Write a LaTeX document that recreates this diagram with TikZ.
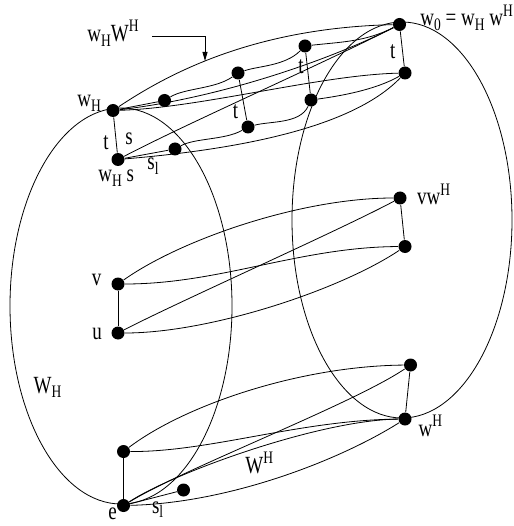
\documentclass[tikz,border=0pt]{standalone}
\usepackage{fontspec}
\setmainfont{Liberation Serif}
\usepackage{graphicx}
\usetikzlibrary{arrows.meta}
\newcommand{\sbs}[1]{\raisebox{-3.6pt}{\fontsize{13.5}{14}\selectfont #1}}
\newcommand{\sps}[1]{\raisebox{7.5pt}{\fontsize{13.5}{14}\selectfont #1}}
\newcommand{\stx}[1]{\scalebox{1}[1.3]{\fontsize{19}{22}\selectfont #1}}
\begin{document}
\begin{tikzpicture}[x=1pt,y=-1pt,line width=0.8pt,
  dot/.style={circle,fill=black,inner sep=0pt,minimum size=13pt},
  lbl/.style={inner sep=0pt,anchor=base west},
  lblc/.style={inner sep=0pt,anchor=base}]
\useasboundingbox (0,0) rectangle (513,526);
% cosets as ellipses
\draw (121,306) ellipse [x radius=111pt, y radius=198pt];
\draw (402,220) ellipse [x radius=110pt, y radius=198pt];
% nodes
\node[dot] (wH)  at (113,110.5) {};
\node[dot] (wHs) at (118,159.5) {};
\node[dot] (A1)  at (164.5,100.5) {};
\node[dot] (A2)  at (175,149) {};
\node[dot] (B1)  at (238,73) {};
\node[dot] (B2)  at (248,127) {};
\node[dot] (C1)  at (305,46) {};
\node[dot] (C2)  at (311,100) {};
\node[dot] (w0)  at (399.5,24.5) {};
\node[dot] (D2)  at (405,73) {};
\node[dot] (v)   at (118,284) {};
\node[dot] (u)   at (118,333) {};
\node[dot] (vwH) at (400,198) {};
\node[dot] (uwH) at (405,246.5) {};
\node[dot] (e2)  at (123.5,451.5) {};
\node[dot] (e)   at (123.5,505.5) {};
\node[dot] (sd)  at (183.5,490) {};
\node[dot] (R1)  at (410.5,365) {};
\node[dot] (wHp) at (405,419) {};
% vertical edges
\draw (wH) -- (wHs);
\draw (B1) -- (B2);
\draw (C1) -- (C2);
\draw (w0) -- (D2);
\draw (v) -- (u);
\draw (vwH) -- (uwH);
\draw (e2) -- (e);
\draw (R1) -- (wHp);
% top chains
\draw (wH) -- (A1);
\draw (A1) .. controls (185,88) and (215,89) .. (B1);
\draw (B1) .. controls (258,66) and (285,66) .. (C1);
\draw (C1) .. controls (340,42) and (365,42) .. (w0);
\draw (wHs) -- (A2);
\draw (A2) .. controls (195,138) and (225,140) .. (B2);
\draw (B2) .. controls (270,121) and (300,124) .. (C2);
\draw (C2) .. controls (340,96) and (375,90) .. (D2);
% top lens
\draw (wH) .. controls (165,76) and (250,28) .. (w0);
\draw (wH) .. controls (220,98) and (330,60) .. (w0);
\draw (wH) .. controls (200,108) and (320,75) .. (D2);
\draw (wHs) .. controls (190,122) and (320,65) .. (w0);
\draw (wHs) .. controls (230,150) and (350,130) .. (D2);
% middle lens
\draw (v) .. controls (180,240) and (300,198) .. (vwH);
\draw (v) .. controls (220,284) and (300,247) .. (uwH);
\draw (u) .. controls (180,301) and (338,231) .. (vwH);
\draw (u) .. controls (210,333) and (340,290) .. (uwH);
% bottom lens
\draw (e2) .. controls (185,405) and (300,366) .. (R1);
\draw (e2) .. controls (210,452) and (300,420) .. (wHp);
\draw (e) .. controls (185,468) and (353,404) .. (R1);
\draw (e) .. controls (175,472) and (320,420) .. (wHp);
\draw (e) .. controls (230,503) and (340,460) .. (wHp);
\draw (e) -- (sd);
% labels
\node[lbl] (lWW) at (87,41.5) {\stx{w\sbs{H}W\sps{H}}};
\coordinate (arrS) at (152,36);
\coordinate (arrT) at (205,61);
\draw[-{Triangle[length=9pt,width=5pt]}] (arrS) -| (arrT);
\node[lbl] (lwH) at (77,107) {\stx{w\sbs{H}}};
\node[lblc] (lt1) at (106,150) {\stx{t}};
\node[lblc] (ls) at (129,145) {\stx{s}};
\node[lbl] (lwHs) at (98,182) {\stx{w\sbs{H} s}};
\node[lbl] (ls1) at (147,170) {\stx{s\sbs{l}}};
\node[lblc] (lt2) at (235.5,118.3) {\stx{t}};
\node[lblc] (lt3) at (301,73.3) {\stx{t}};
\node[lblc] (lt4) at (392.7,58.3) {\stx{t}};
\node[lbl] (lw0) at (420,26) {\stx{w\sbs{0} = w\sbs{H} w\sps{H}}};
\node[lbl] (lvwH) at (416.7,205) {\stx{vw\sps{H}}};
\node[lblc] (lv) at (96.7,285) {\stx{v}};
\node[lblc] (lu) at (97,339) {\stx{u}};
\node[lbl] (lWH) at (33.3,393.3) {\stx{W\sbs{H}}};
\node[lbl] (lwHp) at (418.3,436.7) {\stx{w\sps{H}}};
\node[lbl] (lWHp) at (245,473.3) {\stx{W\sps{H}}};
\node[lblc] (le) at (112.5,519.5) {\stx{e}};
\node[lbl] (ls1b) at (151.7,513) {\stx{s\sbs{l}}};
\end{tikzpicture}
\end{document}
